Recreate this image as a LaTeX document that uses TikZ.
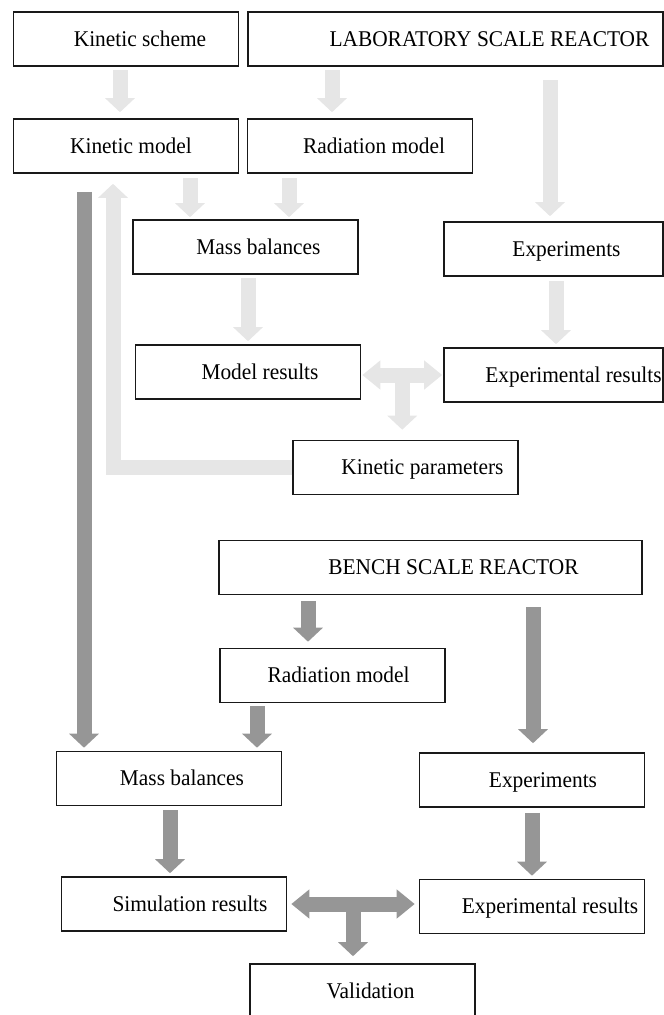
\documentclass[tikz,border=0pt]{standalone}
\usepackage{fontspec}
\newfontfamily\boxfont{Liberation Serif}[FakeStretch=0.95]
\usetikzlibrary{arrows.meta,calc}
\definecolor{litegray}{RGB}{230,230,230}
\definecolor{darkgray}{RGB}{150,150,150}
\tikzset{
  box/.style={draw=black!90, line width=1.6pt, minimum width=#1, minimum height=54pt, inner sep=0pt,
    font=\boxfont\fontsize{22.5}{24}\selectfont, text height=16pt, text depth=2pt},
  box/.default=225pt,
  push/.style={execute at begin node={\hspace*{#1}}},
  fat/.style={line width=15pt, -{Triangle[length=14pt,width=29pt]}},
  both/.style={line width=15pt, {Triangle[length=18pt,width=28pt]}-{Triangle[length=18pt,width=28pt]}},
  litearr/.style={draw=litegray},
  darkarr/.style={draw=darkgray},
}

\begin{document}
\begin{tikzpicture}[x=1pt,y=-1pt]
\useasboundingbox (0,0) rectangle (664,1015);
% laboratory scale
\node[box,push=28pt] (ks) at (126,39) {Kinetic scheme};
\node[box=415pt,push=68pt] (lab) at (455.5,39) {LABORATORY SCALE REACTOR};
\node[box,push=10pt] (km) at (126,146) {Kinetic model};
\node[box,push=28pt] (rm) at (360,146) {Radiation model};
\node[box,push=26pt] (mb) at (245.5,247) {Mass balances};
\node[box=219pt,push=26pt] (ex) at (553.5,249) {Experiments};
\node[box,push=24pt] (mr) at (248,372) {Model results};
\node[box=219pt,push=40pt] (er) at (553.5,375) {Experimental results};
\node[box,push=34pt] (kp) at (405.5,467.5) {Kinetic parameters};
% bench scale
\node[box=423pt,push=46pt] (bench) at (430.5,567.5) {BENCH SCALE REACTOR};
\node[box,push=12pt] (rm2) at (332.5,675.5) {Radiation model};
\node[box,push=26pt] (mb2) at (169,778.5) {Mass balances};
\node[box,push=22pt] (ex2) at (532,780) {Experiments};
\node[box,push=32pt] (sr) at (174,904) {Simulation results};
\node[box,push=36pt] (er2) at (532,906.5) {Experimental results};
\node[box,push=16pt] (val) at (362.5,991) {Validation};

\begin{scope}[litearr]
\draw[fat] ($(ks.south)+(-6,3)$) -- ($(km.north)+(-6,-6)$);
\draw[fat] ($(rm.north |- lab.south)+(-28,3)$) -- ($(rm.north)+(-28,-6)$);
\draw[fat] ($(ex.north |- lab.south)+(-3.5,13)$) -- ($(ex.north)+(-3.5,-5)$);
\draw[fat] ($(km.south)+(64,4)$) -- ($(mb.north -| km.south)+(64,-2)$);
\draw[fat] ($(rm.south)+(-71,4)$) -- ($(mb.north -| rm.south)+(-71,-2)$);
\draw[fat] ($(mb.south)+(2.5,3)$) -- ($(mr.north)+(0,-3)$);
\draw[fat] ($(ex.south)+(2.5,4)$) -- ($(er.north)+(2.5,-3)$);
\draw[both] ($(mr.east)+(1,3)$) coordinate (m1) -- ($(er.west)+(-1,0)$) coordinate (m2);
\coordinate (mid) at ($(m1)!0.5!(m2)$);
\draw[fat] (mid) -- ($(kp.north -| mid)+(0,-10)$);
\draw[fat] (kp.west) -| ($(km.south)+(-13,10)$);
\end{scope}

\begin{scope}[darkarr]
\draw[fat] ($(km.south)+(-42,18)$) -- ($(mb2.north -| km.south)+(-42,-3)$);
\draw[fat] ($(rm2.north |- bench.south)+(-24.5,6)$) -- ($(rm2.north)+(-24.5,-6)$);
\draw[fat] ($(rm2.south)+(-75.5,3)$) -- ($(mb2.north -| rm2.south)+(-75.5,-3)$);
\draw[fat] ($(ex2.north |- bench.south)+(1,12)$) -- ($(ex2.north)+(1,-9)$);
\draw[fat] ($(mb2.south)+(1,4)$) -- ($(sr.north -| mb2.south)+(1,-3)$);
\draw[fat] ($(ex2.south)+(0,5)$) -- ($(er2.north)+(0,-3)$);
\draw[both] ($(sr.east)+(4,0)$) coordinate (s1) -- ($(er2.west |- sr.east)+(-4,0)$) coordinate (s2);
\coordinate (mid2) at ($(s1)!0.5!(s2)$);
\draw[fat] (mid2) -- ($(val.north -| mid2)+(0,-7)$);
\end{scope}
\end{tikzpicture}
\end{document}
